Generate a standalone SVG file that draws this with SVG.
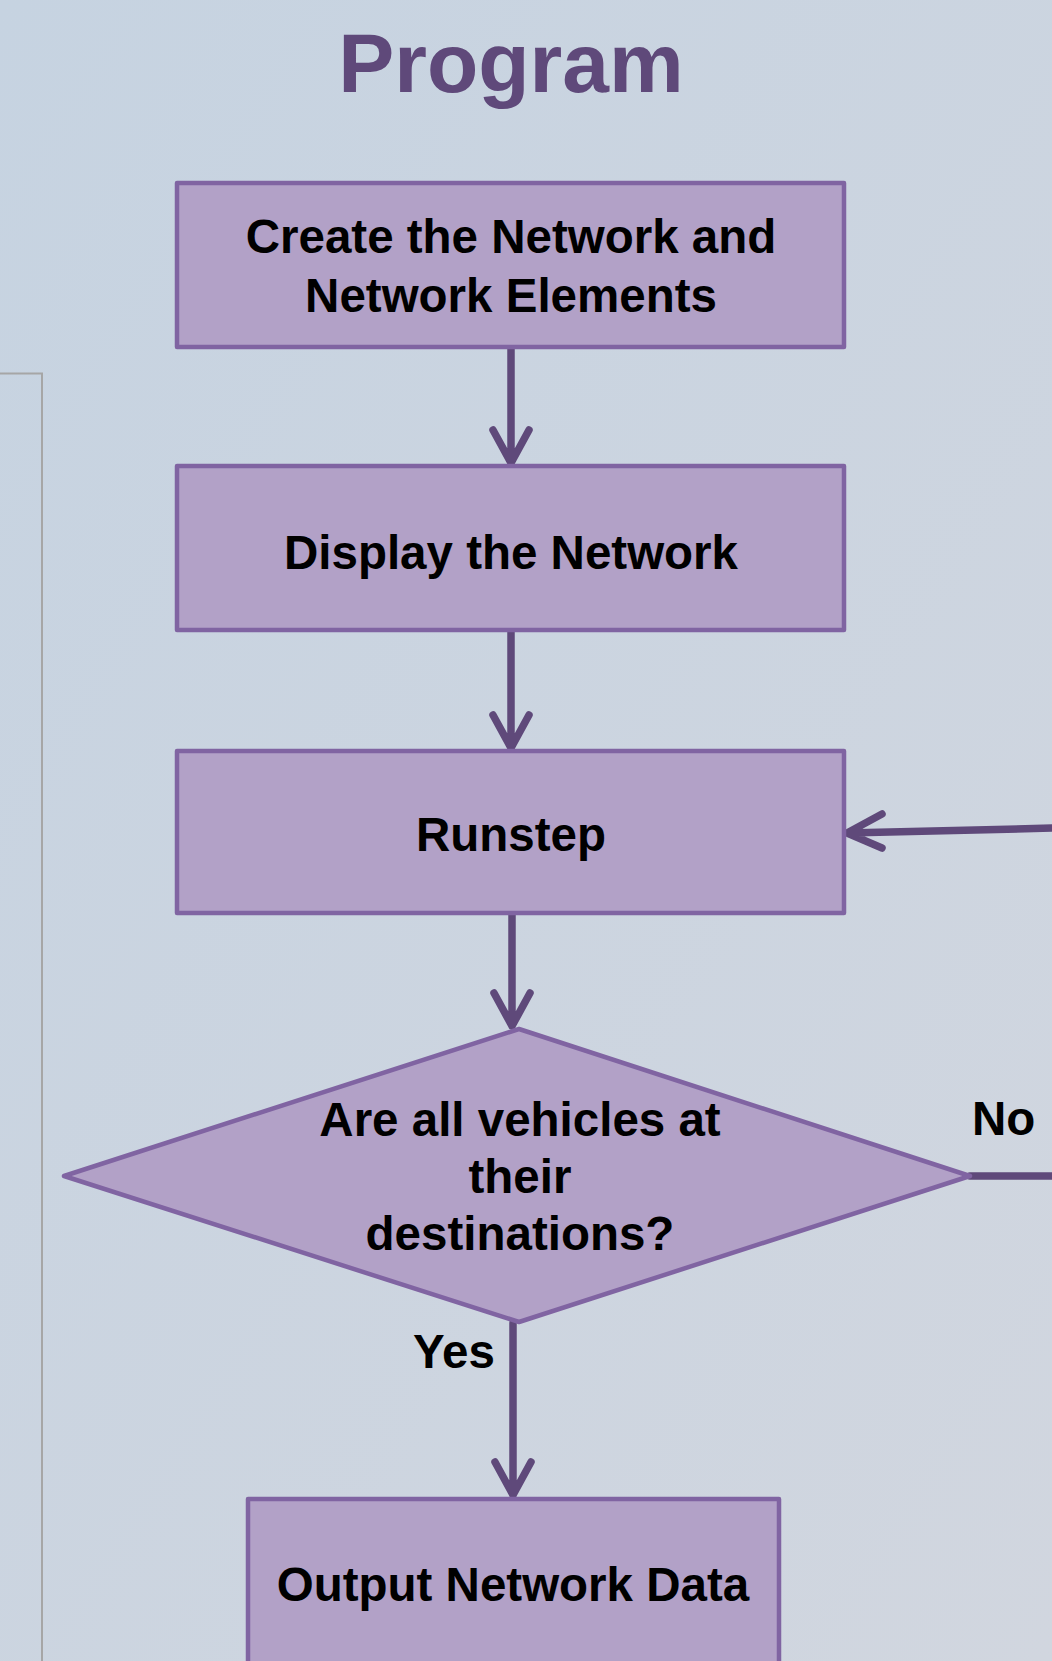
<svg xmlns="http://www.w3.org/2000/svg" width="1052" height="1661" viewBox="0 0 1052 1661">
<defs>
<linearGradient id="bg" x1="0" y1="0" x2="1" y2="1">
<stop offset="0" stop-color="#c6d3e1"/>
<stop offset="1" stop-color="#d1d6df"/>
</linearGradient>
<style>
.node{fill:#b2a1c7;stroke:#8064a2;stroke-width:4.5;stroke-linejoin:round}
.t{font-family:"Liberation Sans",Arial,sans-serif;font-weight:bold;fill:#000;text-anchor:middle;font-size:47.5px}
.lbl{font-family:"Liberation Sans",Arial,sans-serif;font-weight:bold;fill:#000;font-size:47.5px}
.c{fill:none;stroke:#5f497a;stroke-width:7.5;stroke-linecap:round;stroke-linejoin:round}
</style>
</defs>
<rect x="0" y="0" width="1052" height="1661" fill="url(#bg)"/>
<path d="M0 373.5 H42 V1661" fill="none" stroke="#a6a6a6" stroke-width="2"/>
<text x="511" y="92" font-family="'Liberation Sans',Arial,sans-serif" font-weight="bold" font-size="84" fill="#5f497a" text-anchor="middle">Program</text>

<g id="connectors">
<path class="c" d="M511 347 V463 M493 430 L511 463 L529 430"/>
<path class="c" d="M511 631 V748 M493 715 L511 748 L529 715"/>
<path class="c" d="M512 914 V1026 M494 993 L512 1026 L530 993"/>
<path class="c" d="M513 1323 V1495 M495 1462 L513 1495 L531 1462"/>
<path class="c" d="M970 1176 H1056" stroke-linecap="butt" stroke-width="8.5"/>
<path class="c" d="M1056 828 L847 833 M882 814 L847 833 L882 848"/>
</g>

<g id="n1">
<rect class="node" x="177" y="183" width="667" height="164"/>
<text class="t" x="511" y="253">Create the Network and</text>
<text class="t" x="511" y="312">Network Elements</text>
</g>
<g id="n2">
<rect class="node" x="177" y="466" width="667" height="164"/>
<text class="t" x="511" y="569">Display the Network</text>
</g>
<g id="n3">
<rect class="node" x="177" y="751" width="667" height="162"/>
<text class="t" x="511" y="851">Runstep</text>
</g>
<g id="n4">
<polygon class="node" points="64,1176 519,1029 970,1176 519,1322"/>
<text class="t" x="520" y="1136">Are all vehicles at</text>
<text class="t" x="520" y="1193">their</text>
<text class="t" x="520" y="1250">destinations?</text>
</g>
<g id="n5">
<rect class="node" x="248" y="1499" width="531" height="170"/>
<text class="t" x="513" y="1601">Output Network Data</text>
</g>
<g id="labels">
<text class="lbl" x="972" y="1135">No</text>
<text class="lbl" x="413" y="1368">Yes</text>
</g>
</svg>
